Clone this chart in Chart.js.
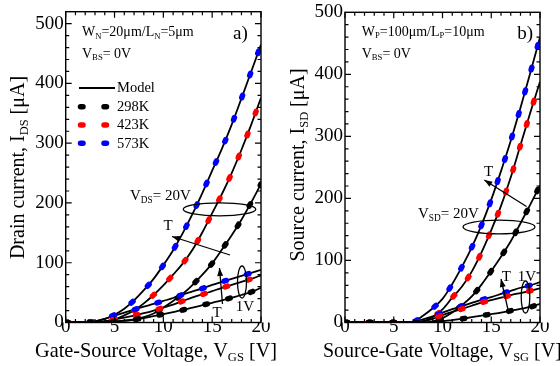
<!DOCTYPE html>
<html><head><meta charset="utf-8">
<script src="https://cdn.jsdelivr.net/npm/chart.js@4"></script>
<style>
html,body{margin:0;padding:0;background:#fff;}
#wrap{position:relative;width:560px;height:366px;overflow:hidden;}
canvas{position:absolute;top:0;}
</style></head><body>
<div id="wrap">
<canvas id="ca" width="280" height="366" style="left:0px"></canvas>
<canvas id="cb" width="280" height="366" style="left:280px"></canvas>
</div>
<script>
// Gate voltage grid [V]
const V = [0,1,2,3,4,5,6,7,8,9,10,11,12,13,14,15,16,17,18,19,20];

// Panel a) NMOS, I_DS [uA]
const a_298K_20V = [0,0,0,0,0.5,1.5,3,5,9,15,25,36,48,63,80,99,122,146,172,201,232];
const a_423K_20V = [0,0,0,0.5,2,5,12,20,32,46,62,80,99,122,151,183,215,250,289,331,376];
const a_573K_20V = [0,0,0.5,2,6,13,23,37,54,73,96,121,150,182,217,254,291,331,375,420,465];
const a_298K_1V  = [0,0,0,0,0.5,1.5,3,5,7.5,10.5,14,17.5,21,25,29,33,37,41.5,46,51,58];
const a_423K_1V  = [0,0,0,0.5,2,5,8,11.5,15.5,20,25,30,36,42,47,52.5,58,63,68,73,79];
const a_573K_1V  = [0,0,0.5,2,6,11.5,16.5,21.5,26.5,31,36,41,47,52,57,63,68,73,78,83,88];

// Panel b) PMOS, I_SD [uA]
const b_298K_20V = [0,0,0,0,0,0,0,0,0,2,7,16,28,42,61,83,106,131,160,190,221];
const b_423K_20V = [0,0,0,0,0,0,0,0,2,9,21,40,58,82,113,149,188,234,286,338,388];
const b_573K_20V = [0,0,0,0,0,0,0,1,11,23,38,62,90,121,157,198,244,293,346,402,460];
const b_298K_1V  = [0,0,0,0,0,0,0,0,0,0.5,2,4,6,8.5,11,13.5,16,19,22,25,30];
const b_423K_1V  = [0,0,0,0,0,0,0,0,2,6,12,17,22,27,32,36,40,44,47.5,51,55];
const b_573K_1V  = [0,0,0,0,0,0,0,1,5,10,16,21.5,26.5,31.5,36.5,41,46,51,56,60,65];

const xTicks = [0,5,10,15,20];
const yTicks = [0,100,200,300,400,500];
const tempLabels = ['298K','423K','573K'];
const BLACK='#000', RED='rgb(255,0,0)', BLUE='rgb(0,0,255)';
const tempColors = [BLACK, RED, BLUE];

const FAM = '"Liberation Serif","Times New Roman",serif';
const F = s => s + 'px ' + FAM;

function pts(arr){ return arr.map((y,i)=>({x:V[i], y:y})); }
function curves(list){
  const ds=[];
  for (const [arr,col] of list){
    ds.push({data:pts(arr), borderColor:BLACK, borderWidth:1.8, pointRadius:0,
      cubicInterpolationMode:'monotone', order:2});
    ds.push({data:pts(arr), borderColor:col, borderWidth:5.5, borderDash:[2.5,21],
      borderCapStyle:'round', pointRadius:0, cubicInterpolationMode:'monotone', order:1});
  }
  return ds;
}

function richW(ctx, parts, sz){
  let w=0;
  for (const [t,k] of parts){ ctx.font = F(k==='s'? sz*0.62 : sz); w += ctx.measureText(t).width; }
  return w;
}
function drawRich(ctx, parts, x, y, sz, align){
  const w = richW(ctx, parts, sz);
  let cx = align==='center' ? x-w/2 : (align==='right' ? x-w : x);
  ctx.textAlign='left'; ctx.textBaseline='alphabetic'; ctx.fillStyle=BLACK;
  for (const [t,k] of parts){
    const s = k==='s'? sz*0.62 : sz;
    ctx.font = F(s);
    ctx.fillText(t, cx, k==='s'? y+sz*0.2 : y);
    cx += ctx.measureText(t).width;
  }
}
function ellipse(ctx, cx, cy, rx, ry){
  ctx.beginPath(); ctx.ellipse(cx, cy, rx, ry, 0, 0, Math.PI*2);
  ctx.lineWidth=1.3; ctx.strokeStyle=BLACK; ctx.stroke();
}
function arrow(ctx, x1, y1, x2, y2){
  ctx.beginPath(); ctx.moveTo(x1,y1); ctx.lineTo(x2,y2);
  ctx.lineWidth=1.3; ctx.strokeStyle=BLACK; ctx.stroke();
  const a = Math.atan2(y2-y1, x2-x1), L=8, W=3;
  ctx.beginPath();
  ctx.moveTo(x2,y2);
  ctx.lineTo(x2 - L*Math.cos(a) + W*Math.sin(a), y2 - L*Math.sin(a) - W*Math.cos(a));
  ctx.lineTo(x2 - L*Math.cos(a) - W*Math.sin(a), y2 - L*Math.sin(a) + W*Math.cos(a));
  ctx.closePath(); ctx.fillStyle=BLACK; ctx.fill();
}
function text(ctx, t, x, y, sz){
  ctx.font=F(sz); ctx.fillStyle=BLACK; ctx.textAlign='left'; ctx.textBaseline='alphabetic';
  ctx.fillText(t, x, y);
}

function frameTicks(chart){
  const ctx=chart.ctx, a=chart.chartArea, xs=chart.scales.x, ys=chart.scales.y;
  ctx.save();
  ctx.strokeStyle=BLACK; ctx.lineWidth=1.2;
  ctx.beginPath();
  for (let v=0; v<=20; v+=1){
    const p = xs.getPixelForValue(v), L = (v%5===0)?6:3.5;
    ctx.moveTo(p, a.bottom); ctx.lineTo(p, a.bottom-L);
    ctx.moveTo(p, a.top); ctx.lineTo(p, a.top+L);
  }
  for (let v=0; v<ys.max; v+=20){
    const p = ys.getPixelForValue(v), L = (v%100===0)?6:3.5;
    ctx.moveTo(a.left, p); ctx.lineTo(a.left+L, p);
    ctx.moveTo(a.right, p); ctx.lineTo(a.right-L, p);
  }
  ctx.stroke();
  ctx.lineWidth=1.4;
  ctx.strokeRect(a.left, a.top, a.right-a.left, a.bottom-a.top);
  ctx.restore();
}

function makeChart(id, ymax, padTop, yW, padRight, list, deco){
  return new Chart(document.getElementById(id), {
    type:'line',
    data:{datasets: curves(list)},
    options:{
      responsive:false, animation:false, devicePixelRatio:1,
      layout:{padding:{left:0, right:padRight, top:padTop, bottom:0}},
      plugins:{legend:{display:false}, tooltip:{enabled:false}},
      scales:{
        x:{type:'linear', min:0, max:20,
          afterBuildTicks: s => { s.ticks = xTicks.map(v=>({value:v})); },
          ticks:{font:{family:FAM, size:19, lineHeight:1}, color:BLACK, padding:-5, maxRotation:0, autoSkip:false},
          grid:{display:false, drawTicks:false}, border:{display:false},
          afterFit: s => { s.height = 43.5; }},
        y:{type:'linear', min:0, max:ymax,
          afterBuildTicks: s => { s.ticks = yTicks.map(v=>({value:v})); },
          ticks:{font:{family:FAM, size:19, lineHeight:1}, color:BLACK, padding:2},
          grid:{display:false, drawTicks:false}, border:{display:false},
          afterFit: s => { s.width = yW; }}
      }
    },
    plugins:[{id:'deco', afterDatasetsDraw(chart){ frameTicks(chart); }, afterDraw(chart){ chart.ctx.save(); deco(chart.ctx); chart.ctx.restore(); }}]
  });
}

makeChart('ca', 520, 11.7, 65.7, 19,
  [[a_298K_1V,BLACK],[a_423K_1V,RED],[a_573K_1V,BLUE],[a_298K_20V,BLACK],[a_423K_20V,RED],[a_573K_20V,BLUE]],
  ctx => {
    drawRich(ctx, [['W','n'],['N','s'],['=20μm/L','n'],['N','s'],['=5μm','n']], 82, 36, 14, 'left');
    drawRich(ctx, [['V','n'],['BS','s'],['= 0V','n']], 82, 57.5, 14, 'left');
    text(ctx, 'a)', 233, 38.5, 19);
    // legend
    ctx.beginPath(); ctx.moveTo(79,88); ctx.lineTo(115,88); ctx.lineWidth=2; ctx.strokeStyle=BLACK; ctx.stroke();
    ctx.font=F(14.5); ctx.textBaseline='middle'; ctx.fillStyle=BLACK; ctx.fillText('Model', 117, 88.5);
    const ly=[106.7,125,143.3];
    for (let i=0;i<3;i++){
      ctx.beginPath(); ctx.lineCap='round'; ctx.lineWidth=5.5; ctx.strokeStyle=tempColors[i];
      ctx.moveTo(80.5,ly[i]); ctx.lineTo(83,ly[i]); ctx.moveTo(104,ly[i]); ctx.lineTo(106.5,ly[i]); ctx.stroke();
      ctx.font=F(14.5); ctx.textBaseline='middle'; ctx.fillStyle=BLACK; ctx.fillText(tempLabels[i], 117, ly[i]+0.5);
    }
    ctx.lineCap='butt';
    drawRich(ctx, [['V','n'],['DS','s'],['= 20V','n']], 130, 199.5, 15, 'left');
    ellipse(ctx, 219.5, 209.3, 36.3, 6.5);
    arrow(ctx, 230, 255, 172, 236.5);
    text(ctx, 'T', 163.5, 230, 15);
    ellipse(ctx, 242, 282, 4.5, 16);
    arrow(ctx, 222.5, 304, 219.5, 268);
    text(ctx, 'T', 212.5, 317, 15);
    text(ctx, '1V', 235.7, 310.5, 15);
    // axis titles
    drawRich(ctx, [['Gate-Source Voltage, V','n'],['GS','s'],[' [V]','n']], 35, 356.5, 20.3, 'left');
    ctx.save(); ctx.translate(23.5, 167.5); ctx.rotate(-Math.PI/2);
    drawRich(ctx, [['Drain current, I','n'],['DS','s'],[' [μA]','n']], 0, 0, 20, 'center');
    ctx.restore();
  });

makeChart('cb', 500, 12.3, 65, 20,
  [[b_298K_1V,BLACK],[b_423K_1V,RED],[b_573K_1V,BLUE],[b_298K_20V,BLACK],[b_423K_20V,RED],[b_573K_20V,BLUE]],
  ctx => {
    drawRich(ctx, [['W','n'],['P','s'],['=100μm/L','n'],['P','s'],['=10μm','n']], 81.7, 35.5, 14, 'left');
    drawRich(ctx, [['V','n'],['BS','s'],['= 0V','n']], 81.7, 57.5, 14, 'left');
    text(ctx, 'b)', 237.3, 38.5, 19);
    drawRich(ctx, [['V','n'],['SD','s'],['= 20V','n']], 138, 217.5, 15, 'left');
    ellipse(ctx, 219, 227, 36, 6.8);
    arrow(ctx, 246.5, 206.5, 204.3, 180);
    text(ctx, 'T', 204, 175.5, 15);
    ellipse(ctx, 245.5, 297, 4.3, 16);
    arrow(ctx, 229, 314, 221, 279);
    text(ctx, 'T', 221.7, 280.5, 15);
    text(ctx, '1V', 237.7, 280.5, 15);
    drawRich(ctx, [['Source-Gate Voltage, V','n'],['SG','s'],[' [V]','n']], 43, 356.5, 20, 'left');
    ctx.save(); ctx.translate(23.5, 165); ctx.rotate(-Math.PI/2);
    drawRich(ctx, [['Source current, I','n'],['SD','s'],[' [μA]','n']], 0, 0, 20, 'center');
    ctx.restore();
  });
</script>
</body></html>
